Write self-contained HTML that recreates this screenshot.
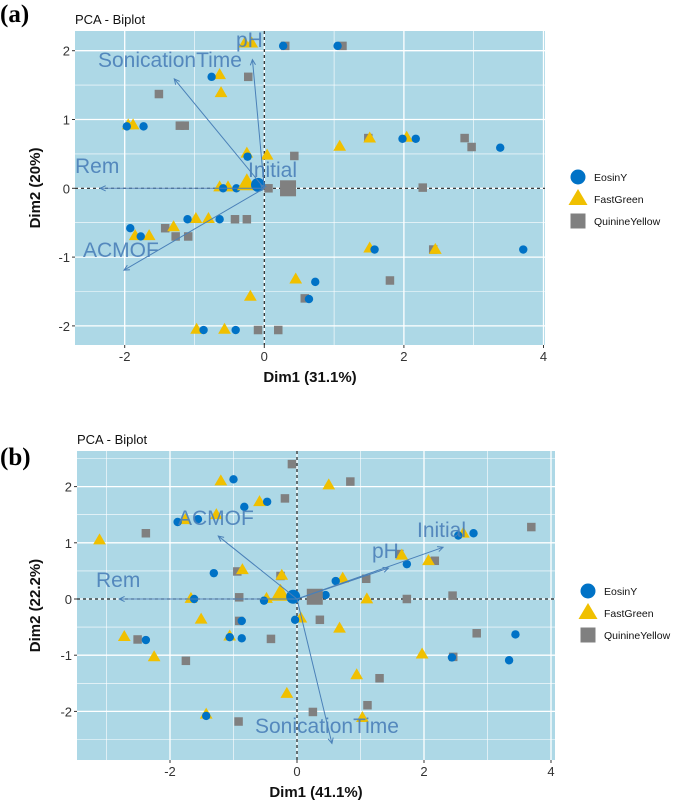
<!DOCTYPE html>
<html><head><meta charset="utf-8"><style>
body{margin:0;background:#fff;width:685px;height:809px;overflow:hidden;font-family:"Liberation Sans",sans-serif}
svg{position:absolute;left:0;top:0}
</style></head><body>
<svg id="chart" width="685" height="809" xmlns="http://www.w3.org/2000/svg"></svg>
<script>
// ---------- Panel (a) data ----------
const aEosinX=[-0.755,-1.97,-1.73,-0.24,-0.59,-0.40,-1.10,-0.64,-1.92,-1.77,0.27,1.05,1.98,2.17,3.38,1.58,3.71,0.73,0.64,-0.87,-0.41];
const aEosinY=[1.62,0.90,0.90,0.46,0,0,-0.45,-0.45,-0.58,-0.70,2.07,2.07,0.72,0.72,0.59,-0.89,-0.89,-1.36,-1.61,-2.06,-2.06];
const aFastX=[-0.64,-0.62,-1.95,-1.88,-0.25,0.04,1.08,1.51,2.04,-0.64,-0.52,-0.98,-0.80,-1.30,-1.85,-1.65,1.51,2.45,0.45,-0.20,-0.97,-0.57,-0.28,-0.18];
const aFastY=[1.65,1.39,0.92,0.92,0.51,0.48,0.61,0.73,0.74,0.02,0.02,-0.44,-0.44,-0.56,-0.69,-0.69,-0.87,-0.89,-1.32,-1.57,-2.05,-2.05,2.11,2.11];
const aQuinX=[0.30,1.12,-0.23,-1.51,-1.21,-1.14,0.43,1.49,2.87,2.97,2.27,0.06,-0.42,-0.25,-1.42,-1.27,-1.09,2.42,1.80,0.58,-0.09,0.20];
const aQuinY=[2.07,2.07,1.62,1.37,0.91,0.91,0.47,0.73,0.73,0.60,0.01,0,-0.45,-0.45,-0.58,-0.70,-0.70,-0.89,-1.34,-1.60,-2.06,-2.06];
const aCentroid=[[-0.09,0.05],[-0.25,0.07],[0.34,0]];
const aVarNames=["Rem","SonicationTime","pH","ACMOF","Initial"];
const aVarX=[-2.35,-1.29,-0.17,-2.01,-0.05];
const aVarY=[0,1.59,1.87,-1.19,0.05];
// ---------- Panel (b) data ----------
const bEosinX=[-1.00,-0.83,-0.47,-1.88,-1.56,2.54,2.78,1.73,0.61,-1.31,-1.62,-0.52,0.45,-0.03,-0.87,-1.06,-0.87,-2.38,3.44,3.34,2.44,-1.43];
const bEosinY=[2.13,1.64,1.73,1.37,1.42,1.13,1.17,0.62,0.32,0.46,0,-0.03,0.07,-0.37,-0.39,-0.68,-0.70,-0.73,-0.63,-1.09,-1.04,-2.08];
const bFastX=[-1.20,-0.59,0.50,-3.11,-1.76,-1.27,-0.86,-0.24,0.72,1.65,2.07,2.62,-1.67,-0.48,1.10,0.06,0.67,-1.51,-2.72,-2.25,-1.06,1.97,0.94,-0.16,-1.43,1.03];
const bFastY=[2.10,1.73,2.03,1.05,1.41,1.50,0.52,0.42,0.37,0.78,0.68,1.17,0.01,0.01,0,-0.34,-0.52,-0.36,-0.67,-1.03,-0.66,-0.98,-1.35,-1.68,-2.05,-2.11];
const bQuinX=[-0.08,0.84,-0.19,-2.38,-0.94,-0.26,1.61,2.17,3.69,1.09,-0.91,1.73,2.45,-0.91,0.36,-0.41,-2.51,2.83,2.46,-1.75,1.30,1.11,0.25,-0.92];
const bQuinY=[2.40,2.09,1.79,1.17,0.49,0.41,0.80,0.68,1.28,0.36,0.03,0,0.06,-0.39,-0.37,-0.71,-0.72,-0.61,-1.03,-1.10,-1.41,-1.89,-2.01,-2.18];
const bCentroid=[[-0.06,0.04],[-0.26,0.09],[0.28,0.04]];
const bVarNames=["Rem","ACMOF","pH","Initial","SonicationTime"];
const bVarX=[-2.80,-1.24,1.44,2.30,0.55];
const bVarY=[0,1.12,0.55,0.92,-2.57];
const xTicks=[-2,0,2,4];
const yTicks=[-2,-1,0,1,2];

const NS="http://www.w3.org/2000/svg";
const svg=document.getElementById('chart');
function mk(tag,attrs,parent){const e=document.createElementNS(NS,tag);for(const k in attrs)e.setAttribute(k,attrs[k]);(parent||svg).appendChild(e);return e;}
const BLUE="#0072c6",GOLD="#f0c000",GRAY="#808080",ARR="#4a80b8";

function panel(cfg){
  const g=mk('g',{});
  
  
  const sx=v=>cfg.x0+v*cfg.ux, sy=v=>cfg.y0-v*cfg.uy;
  const bg=mk('rect',{x:cfg.L,y:cfg.T,width:cfg.R-cfg.L,height:cfg.B-cfg.T,fill:"#add8e6"},g);
  
  
  for(let v=-4;v<=5;v+=1){const px=sx(v);if(px<cfg.L||px>cfg.R)continue;
    const l=mk('line',{x1:px,x2:px,y1:cfg.T,y2:cfg.B,stroke:"#fff","stroke-width":v%2===0?1.3:0.6},g);
    }
  for(let v=-3;v<=3;v+=0.5){const py=sy(v);if(py<cfg.T||py>cfg.B)continue;
    const l=mk('line',{x1:cfg.L,x2:cfg.R,y1:py,y2:py,stroke:"#fff","stroke-width":Number.isInteger(v)?1.3:0.6},g);
    }
  xTicks.forEach(t=>{const px=sx(t);if(px<cfg.L-2||px>cfg.R+2)return;
    mk('line',{x1:px,x2:px,y1:cfg.B,y2:cfg.B+3,stroke:"#333"},g);
    const tx=mk('text',{x:px,y:cfg.B+16,"text-anchor":"middle","font-size":13,fill:"#333"},g);tx.textContent=t;
    });
  yTicks.forEach(t=>{const py=sy(t);
    mk('line',{x1:cfg.L-3,x2:cfg.L,y1:py,y2:py,stroke:"#333"},g);
    const tx=mk('text',{x:cfg.L-5,y:py+5,"text-anchor":"end","font-size":13,fill:"#333"},g);tx.textContent=t;
    });
  mk('line',{x1:sx(0),x2:sx(0),y1:cfg.T,y2:cfg.B,stroke:"#222","stroke-dasharray":"3,3","stroke-width":1.2},g);
  mk('line',{x1:cfg.L,x2:cfg.R,y1:sy(0),y2:sy(0),stroke:"#222","stroke-dasharray":"3,3","stroke-width":1.2},g);
  const circ=(x,y,r)=>{const c=mk('circle',{cx:sx(x),cy:sy(y),r:r,fill:BLUE},g);
    };
  const tri=(x,y,s)=>{const X=sx(x),Y=sy(y);const p=mk('polygon',{points:`${X},${Y-s*0.6} ${X-s*0.58},${Y+s*0.4} ${X+s*0.58},${Y+s*0.4}`,fill:GOLD},g);
    };
  const sq=(x,y,s)=>{const r=mk('rect',{x:sx(x)-s/2,y:sy(y)-s/2,width:s,height:s,fill:GRAY},g);
    };
  cfg.qx.forEach((v,i)=>sq(v,cfg.qy[i],8.5));
  cfg.fx.forEach((v,i)=>tri(v,cfg.fy[i],11));
  cfg.ex.forEach((v,i)=>circ(v,cfg.ey[i],4.2));
  sq(cfg.cen[2][0],cfg.cen[2][1],16);
  tri(cfg.cen[1][0],cfg.cen[1][1],17);
  circ(cfg.cen[0][0],cfg.cen[0][1],7);
  cfg.vx.forEach((v,i)=>{const X=sx(v),Y=sy(cfg.vy[i]),ox=sx(0),oy=sy(0);
    const l=mk('line',{x1:ox,y1:oy,x2:X,y2:Y,stroke:ARR,"stroke-width":1},g);
    
    const a=Math.atan2(Y-oy,X-ox),h=6;
    mk('polyline',{points:`${X-h*Math.cos(a-0.45)},${Y-h*Math.sin(a-0.45)} ${X},${Y} ${X-h*Math.cos(a+0.45)},${Y-h*Math.sin(a+0.45)}`,fill:"none",stroke:ARR,"stroke-width":1},g);
    const t=mk('text',{x:cfg.lab[i][0],y:cfg.lab[i][1],"font-size":21,fill:ARR,"fill-opacity":0.9},g);t.textContent=cfg.vn[i];
    });
  const tt=mk('text',{x:cfg.L,y:cfg.T-7,"font-size":13,fill:"#111"},g);tt.textContent="PCA - Biplot";
  
  const xt=mk('text',{x:(cfg.L+cfg.R)/2,y:cfg.B+37,"font-size":15,"font-weight":"bold","text-anchor":"middle",fill:"#111"},g);xt.textContent=cfg.xl;
  
  const cy=(cfg.T+cfg.B)/2;
  const yt=mk('text',{x:40,y:cy,"font-size":15,"font-weight":"bold","text-anchor":"middle",fill:"#111",transform:`rotate(-90 40 ${cy})`},g);yt.textContent=cfg.yl;
  
  const pl=mk('text',{x:0,y:cfg.plY,"font-size":25,"font-weight":"bold","font-family":"Liberation Serif,serif",fill:"#000"},g);pl.textContent=cfg.pl;
  
  const names=["EosinY","FastGreen","QuinineYellow"];
  names.forEach((n,i)=>{const lx=cfg.legX,ly=cfg.legY+i*22;
    const e=mk('g',{},g);
    if(i===0)mk('circle',{cx:lx,cy:ly,r:7.5,fill:BLUE},e);
    if(i===1)mk('polygon',{points:`${lx},${ly-10} ${lx-9.5},${ly+6} ${lx+9.5},${ly+6}`,fill:GOLD},e);
    if(i===2)mk('rect',{x:lx-7.5,y:ly-7.5,width:15,height:15,fill:GRAY},e);
    const t=mk('text',{x:lx+16,y:ly+4,"font-size":10.5,fill:"#111"},e);t.textContent=n;});
}
panel({name:'panel-a',L:75,R:545,T:31,B:345,x0:264.3,ux:69.8,y0:188.3,uy:68.8,
  ex:aEosinX,ey:aEosinY,fx:aFastX,fy:aFastY,qx:aQuinX,qy:aQuinY,cen:aCentroid,
  vn:aVarNames,vx:aVarX,vy:aVarY,
  lab:[[75,173],[98,67],[236,47],[83,257],[248,177]],
  xl:"Dim1 (31.1%)",yl:"Dim2 (20%)",pl:"(a)",plY:22,legX:578,legY:177});
panel({name:'panel-b',L:77,R:555,T:451,B:760,x0:297,ux:63.5,y0:599,uy:56.2,
  ex:bEosinX,ey:bEosinY,fx:bFastX,fy:bFastY,qx:bQuinX,qy:bQuinY,cen:bCentroid,
  vn:bVarNames,vx:bVarX,vy:bVarY,
  lab:[[96,587],[178,525],[372,558],[417,537],[255,733]],
  xl:"Dim1 (41.1%)",yl:"Dim2 (22.2%)",pl:"(b)",plY:465,legX:588,legY:591});
</script>
</body></html>
